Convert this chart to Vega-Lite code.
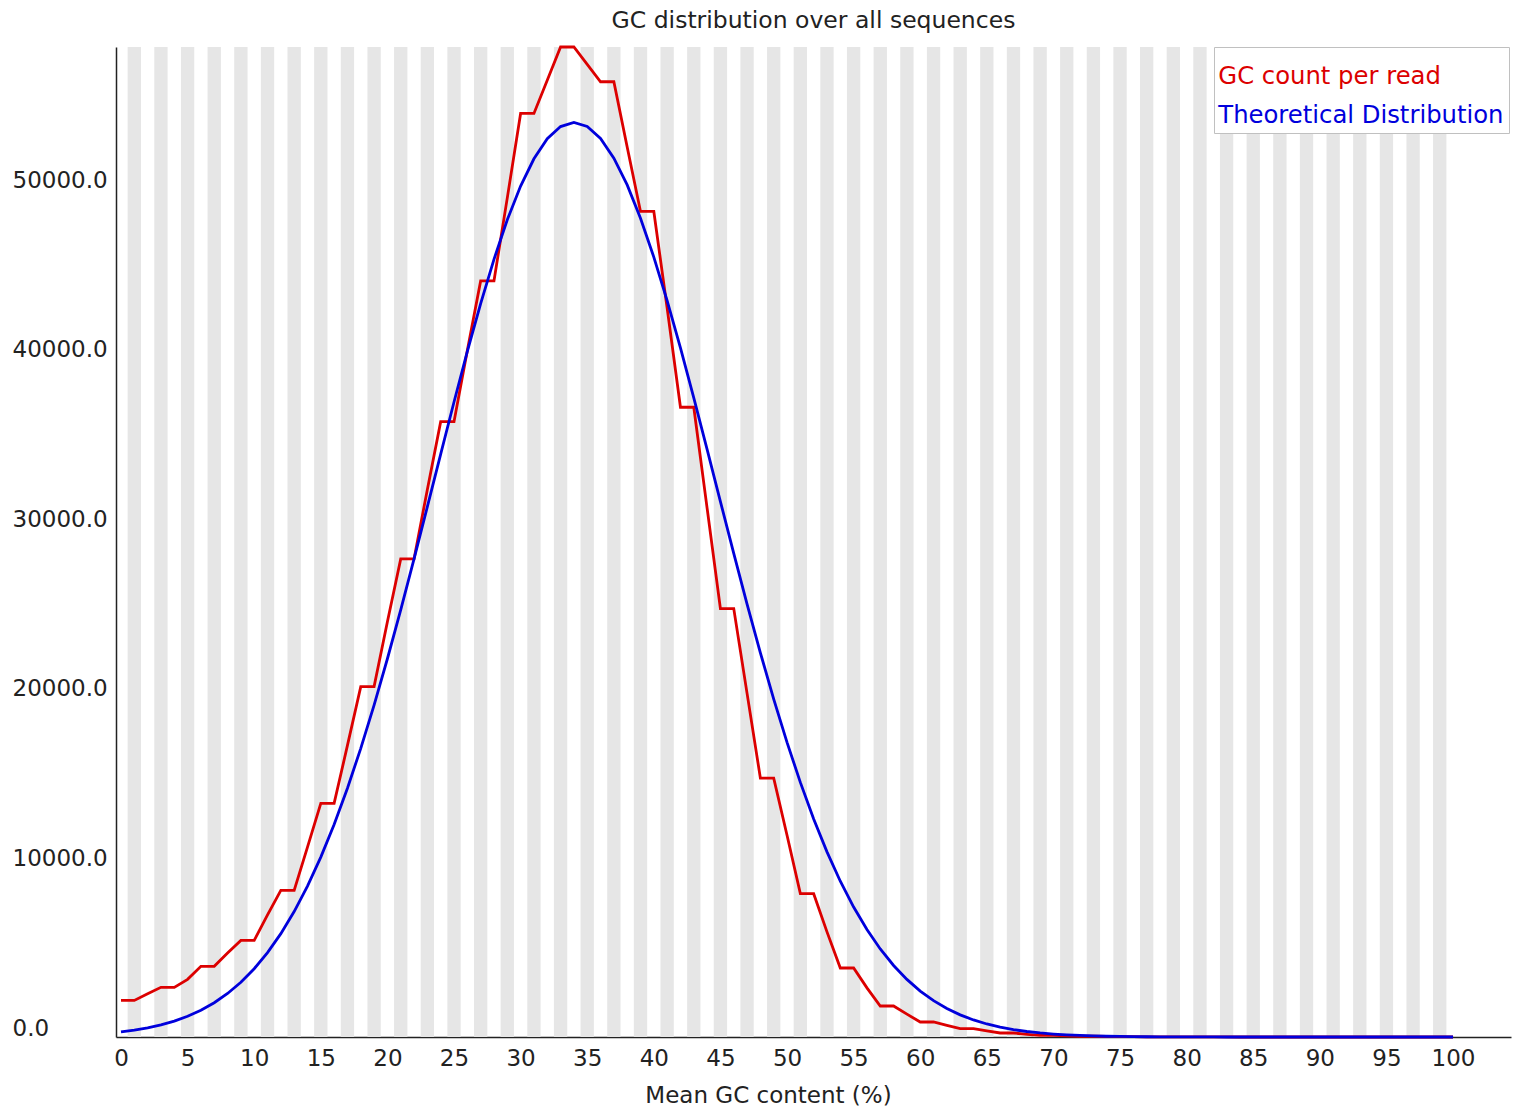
{
  "$schema": "https://vega.github.io/schema/vega-lite/v6.json",
  "autosize": "none",
  "width": 1395,
  "height": 990,
  "padding": {"left": 116, "top": 47, "right": 9, "bottom": 71},
  "background": "white",
  "title": {
    "text": "GC distribution over all sequences",
    "font": "DejaVu Sans",
    "fontSize": 23.5,
    "fontWeight": "normal",
    "color": "#222222",
    "frame": "group",
    "anchor": "middle",
    "offset": 8
  },
  "config": {
    "view": {"stroke": null},
    "font": "DejaVu Sans"
  },
  "data": {
    "values": [
      {"gc":0,"read":2160,"theoretical":296},
      {"gc":1,"read":2160,"theoretical":400},
      {"gc":2,"read":2550,"theoretical":535},
      {"gc":3,"read":2930,"theoretical":711},
      {"gc":4,"read":2930,"theoretical":936},
      {"gc":5,"read":3400,"theoretical":1221},
      {"gc":6,"read":4170,"theoretical":1579},
      {"gc":7,"read":4170,"theoretical":2023},
      {"gc":8,"read":4950,"theoretical":2568},
      {"gc":9,"read":5700,"theoretical":3231},
      {"gc":10,"read":5700,"theoretical":4029},
      {"gc":11,"read":7200,"theoretical":4980},
      {"gc":12,"read":8650,"theoretical":6098},
      {"gc":13,"read":8650,"theoretical":7401},
      {"gc":14,"read":11200,"theoretical":8903},
      {"gc":15,"read":13780,"theoretical":10612},
      {"gc":16,"read":13780,"theoretical":12536},
      {"gc":17,"read":17200,"theoretical":14677},
      {"gc":18,"read":20670,"theoretical":17028},
      {"gc":19,"read":20670,"theoretical":19581},
      {"gc":20,"read":24500,"theoretical":22313},
      {"gc":21,"read":28200,"theoretical":25200},
      {"gc":22,"read":28200,"theoretical":28203},
      {"gc":23,"read":32300,"theoretical":31282},
      {"gc":24,"read":36300,"theoretical":34385},
      {"gc":25,"read":36300,"theoretical":37457},
      {"gc":26,"read":40500,"theoretical":40439},
      {"gc":27,"read":44600,"theoretical":43265},
      {"gc":28,"read":44600,"theoretical":45874},
      {"gc":29,"read":49500,"theoretical":48204},
      {"gc":30,"read":54480,"theoretical":50198},
      {"gc":31,"read":54480,"theoretical":51807},
      {"gc":32,"read":56440,"theoretical":52986},
      {"gc":33,"read":58400,"theoretical":53708},
      {"gc":34,"read":58400,"theoretical":53950},
      {"gc":35,"read":57380,"theoretical":53712},
      {"gc":36,"read":56350,"theoretical":53004},
      {"gc":37,"read":56350,"theoretical":51844},
      {"gc":38,"read":52500,"theoretical":50263},
      {"gc":39,"read":48700,"theoretical":48300},
      {"gc":40,"read":48700,"theoretical":46006},
      {"gc":41,"read":43000,"theoretical":43435},
      {"gc":42,"read":37150,"theoretical":40645},
      {"gc":43,"read":37150,"theoretical":37700},
      {"gc":44,"read":31200,"theoretical":34661},
      {"gc":45,"read":25270,"theoretical":31584},
      {"gc":46,"read":25270,"theoretical":28528},
      {"gc":47,"read":20270,"theoretical":25541},
      {"gc":48,"read":15270,"theoretical":22665},
      {"gc":49,"read":15270,"theoretical":19934},
      {"gc":50,"read":11900,"theoretical":17381},
      {"gc":51,"read":8455,"theoretical":15019},
      {"gc":52,"read":8455,"theoretical":12863},
      {"gc":53,"read":6200,"theoretical":10922},
      {"gc":54,"read":4070,"theoretical":9190},
      {"gc":55,"read":4070,"theoretical":7665},
      {"gc":56,"read":2900,"theoretical":6337},
      {"gc":57,"read":1830,"theoretical":5193},
      {"gc":58,"read":1830,"theoretical":4218},
      {"gc":59,"read":1350,"theoretical":3397},
      {"gc":60,"read":885,"theoretical":2710},
      {"gc":61,"read":885,"theoretical":2143},
      {"gc":62,"read":690,"theoretical":1679},
      {"gc":63,"read":495,"theoretical":1305},
      {"gc":64,"read":495,"theoretical":1006},
      {"gc":65,"read":360,"theoretical":768},
      {"gc":66,"read":236,"theoretical":581},
      {"gc":67,"read":236,"theoretical":436},
      {"gc":68,"read":160,"theoretical":324},
      {"gc":69,"read":100,"theoretical":239},
      {"gc":70,"read":100,"theoretical":174},
      {"gc":71,"read":70,"theoretical":126},
      {"gc":72,"read":45,"theoretical":91},
      {"gc":73,"read":45,"theoretical":64},
      {"gc":74,"read":30,"theoretical":45},
      {"gc":75,"read":20,"theoretical":32},
      {"gc":76,"read":20,"theoretical":22},
      {"gc":77,"read":12,"theoretical":15},
      {"gc":78,"read":8,"theoretical":10},
      {"gc":79,"read":8,"theoretical":7},
      {"gc":80,"read":5,"theoretical":5},
      {"gc":81,"read":3,"theoretical":3},
      {"gc":82,"read":3,"theoretical":2},
      {"gc":83,"read":2,"theoretical":1},
      {"gc":84,"read":1,"theoretical":0},
      {"gc":85,"read":1,"theoretical":0},
      {"gc":86,"read":0,"theoretical":0},
      {"gc":87,"read":0,"theoretical":0},
      {"gc":88,"read":0,"theoretical":0},
      {"gc":89,"read":0,"theoretical":0},
      {"gc":90,"read":0,"theoretical":0},
      {"gc":91,"read":0,"theoretical":0},
      {"gc":92,"read":0,"theoretical":0},
      {"gc":93,"read":0,"theoretical":0},
      {"gc":94,"read":0,"theoretical":0},
      {"gc":95,"read":0,"theoretical":0},
      {"gc":96,"read":0,"theoretical":0},
      {"gc":97,"read":0,"theoretical":0},
      {"gc":98,"read":0,"theoretical":0},
      {"gc":99,"read":0,"theoretical":0},
      {"gc":100,"read":0,"theoretical":0}
    ]
  },
  "layer": [
    {
      "transform": [{"filter": "datum.gc % 2 == 1"}],
      "mark": {"type": "rule", "color": "#e6e6e6", "strokeWidth": 13.32, "strokeCap": "butt"},
      "encoding": {
        "x": {"field": "gc", "type": "quantitative"}
      }
    },
    {
      "transform": [{"fold": ["read", "theoretical"], "as": ["series", "count"]}],
      "mark": {"type": "line", "strokeWidth": 2.8, "interpolate": "linear"},
      "encoding": {
        "x": {
          "field": "gc",
          "type": "quantitative",
          "scale": {"domain": [-0.375, 104.35], "nice": false, "zero": false},
          "axis": {
            "values": [0,5,10,15,20,25,30,35,40,45,50,55,60,65,70,75,80,85,90,95,100],
            "format": "d",
            "grid": false,
            "ticks": false,
            "labelPadding": 10,
            "labelFont": "DejaVu Sans",
            "labelFontSize": 23,
            "labelColor": "#222222",
            "labelFlush": false,
            "domainColor": "#222222",
            "domainWidth": 1.5,
            "title": "Mean GC content (%)",
            "titleFont": "DejaVu Sans",
            "titleFontSize": 23,
            "titleFontWeight": "normal",
            "titleColor": "#222222",
            "titlePadding": 14,
            "titleX": 652
          }
        },
        "y": {
          "field": "count",
          "type": "quantitative",
          "scale": {"domain": [0, 58400], "nice": false},
          "axis": {
            "values": [0, 10000, 20000, 30000, 40000, 50000],
            "format": ".1f",
            "grid": false,
            "ticks": false,
            "tickSize": 0,
            "labelAlign": "left",
            "labelPadding": 104,
            "labelOffset": -9,
            "labelFont": "DejaVu Sans",
            "labelFontSize": 23,
            "labelColor": "#222222",
            "labelFlush": false,
            "domainColor": "#222222",
            "domainWidth": 1.5,
            "title": null
          }
        },
        "color": {
          "field": "series",
          "type": "nominal",
          "scale": {"domain": ["read", "theoretical"], "range": ["#dc0000", "#0000dc"]},
          "legend": {
            "orient": "none",
            "legendX": 1098,
            "legendY": 0,
            "title": " ",
            "titleFontSize": 8,
            "titlePadding": 5,
            "labelExpr": "datum.value == 'read' ? 'GC count per read' : 'Theoretical Distribution'",
            "labelFont": "DejaVu Sans",
            "labelFontSize": 24.3,
            "labelLimit": 0,
            "labelOffset": -24.5,
            "symbolSize": 0,
            "symbolStrokeWidth": 0,
            "symbolOpacity": 0,
            "rowPadding": 14,
            "padding": 4.5,
            "strokeColor": "#c0c0c0",
            "fillColor": "white",
            "encode": {
              "labels": {
                "update": {
                  "fill": {"signal": "datum.value == 'read' ? '#dc0000' : '#0000dc'"}
                }
              }
            }
          }
        }
      }
    }
  ]
}
